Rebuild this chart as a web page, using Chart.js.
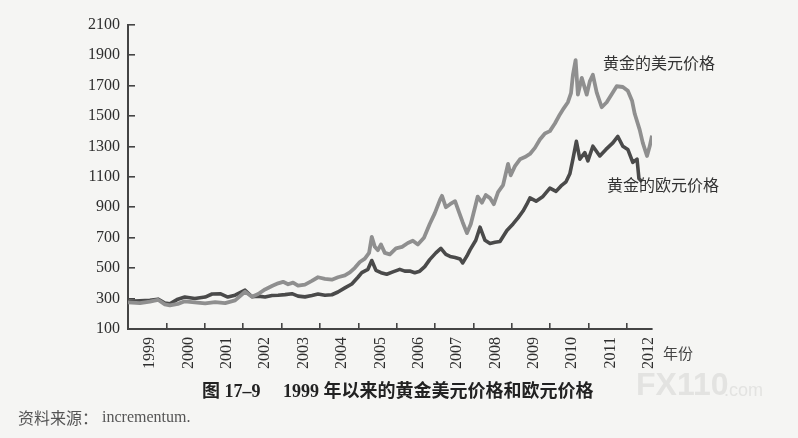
<!DOCTYPE html>
<html>
<head>
<meta charset="utf-8">
<script src="https://cdn.jsdelivr.net/npm/chart.js@4.4.1/dist/chart.umd.min.js"></script>
<style>
  html, body { margin: 0; padding: 0; background: #f5f5f3; }
  #wrap { width: 798px; height: 438px; position: relative; }
</style>
</head>
<body>
<div id="wrap"><canvas id="c" width="798" height="438"></canvas></div>
<script>
// ---- data ----
const usdYears = [1999.00,1999.31,1999.57,1999.78,1999.96,2000.09,2000.30,2000.48,2000.74,2001.01,2001.27,2001.53,2001.79,2002.05,2002.23,2002.39,2002.57,2002.75,2002.91,2003.04,2003.17,2003.30,2003.43,2003.61,2003.79,2003.95,2004.13,2004.31,2004.47,2004.65,2004.78,2004.91,2005.04,2005.17,2005.28,2005.35,2005.43,2005.51,2005.59,2005.69,2005.82,2005.98,2006.14,2006.29,2006.42,2006.55,2006.71,2006.86,2006.99,2007.13,2007.18,2007.28,2007.39,2007.52,2007.62,2007.72,2007.83,2007.93,2008.04,2008.11,2008.22,2008.32,2008.43,2008.53,2008.64,2008.77,2008.90,2008.97,2009.08,2009.21,2009.34,2009.47,2009.60,2009.73,2009.86,2009.99,2010.12,2010.25,2010.35,2010.46,2010.54,2010.59,2010.66,2010.72,2010.82,2010.95,2011.03,2011.11,2011.21,2011.34,2011.47,2011.60,2011.73,2011.89,2012.02,2012.13,2012.20,2012.33,2012.41,2012.52,2012.59,2012.65];
const usdPrices = [275,270,280,292,262,255,265,282,275,268,276,270,288,345,312,330,360,382,400,410,394,405,385,392,416,440,430,424,440,452,472,502,540,562,600,705,640,618,655,600,590,630,640,665,680,655,700,790,860,950,975,900,920,940,870,800,730,790,900,970,930,980,960,920,1000,1045,1185,1110,1170,1215,1230,1250,1290,1345,1385,1400,1450,1510,1550,1590,1650,1770,1866,1640,1750,1640,1727,1770,1653,1557,1590,1642,1695,1690,1665,1600,1514,1408,1323,1237,1300,1370];

const eurYears = [1999.00,1999.31,1999.57,1999.78,1999.96,2000.09,2000.30,2000.48,2000.74,2001.01,2001.19,2001.40,2001.60,2001.79,2002.05,2002.23,2002.39,2002.57,2002.75,2002.91,2003.09,2003.27,2003.43,2003.61,2003.79,2003.95,2004.13,2004.31,2004.47,2004.65,2004.83,2004.99,2005.09,2005.25,2005.35,2005.46,2005.59,2005.74,2005.90,2006.08,2006.21,2006.34,2006.47,2006.60,2006.73,2006.86,2007.02,2007.15,2007.28,2007.39,2007.52,2007.65,2007.72,2007.83,2007.91,2008.06,2008.17,2008.30,2008.43,2008.56,2008.69,2008.87,2009.03,2009.16,2009.29,2009.39,2009.47,2009.63,2009.81,2009.99,2010.15,2010.28,2010.41,2010.51,2010.59,2010.68,2010.77,2010.90,2010.98,2011.11,2011.29,2011.45,2011.63,2011.76,2011.89,2012.02,2012.15,2012.26,2012.31,2012.39];
const eurPrices = [282,285,288,296,270,265,296,310,300,310,330,332,310,322,355,312,316,310,320,322,326,332,316,311,320,330,322,325,343,370,396,440,470,492,550,485,470,460,475,492,480,481,470,480,510,556,600,630,590,577,570,560,534,580,620,683,769,683,662,670,675,747,790,830,875,920,961,940,971,1025,1004,1040,1067,1120,1216,1333,1216,1259,1205,1301,1237,1280,1323,1365,1301,1280,1195,1216,1088,1067];

const yTicks = [100,300,500,700,900,1100,1300,1500,1700,1900,2100];
const yearTicks = [1999,2000,2001,2002,2003,2004,2005,2006,2007,2008,2009,2010,2011,2012];

const seriesNames = ['黄金的美元价格', '黄金的欧元价格'];
const titleLead = '图 17–9';
const titleText = '1999 年以来的黄金美元价格和欧元价格';
const sourceLead = '资料来源：';
const sourceText = 'incrementum.';
const xUnit = '年份';

// ---- chart ----
const toPts = (xs, ys) => xs.map((x, i) => ({ x: x, y: ys[i] }));
const serif = '"Liberation Serif", "DejaVu Serif", serif';
const cjk = '"Noto Sans CJK SC", sans-serif';

const textPlugin = {
  id: 'texts',
  beforeDraw(chart) {
    const ctx = chart.ctx;
    ctx.save();
    ctx.fillStyle = '#f5f5f3';
    ctx.fillRect(0, 0, chart.width, chart.height);
    ctx.restore();
  },
  beforeDatasetsDraw(chart) {
    chart.ctx.save();
    chart.ctx.filter = 'blur(0.6px)';
  },
  afterDatasetsDraw(chart) {
    chart.ctx.restore();
  },
  afterDraw(chart) {
    const ctx = chart.ctx;
    ctx.save();
    ctx.textBaseline = 'middle';
    // watermark
    ctx.fillStyle = '#e3e3e1';
    ctx.font = 'bold 32px "Liberation Sans", sans-serif';
    ctx.fillText('FX110', 636, 386);
    ctx.font = '18px "Liberation Sans", sans-serif';
    ctx.fillText('.com', 724, 391);
    // series labels
    ctx.fillStyle = '#333';
    ctx.font = '16px ' + cjk;
    ctx.fillText(seriesNames[0], 603, 63);
    ctx.fillText(seriesNames[1], 607, 185);
    // x unit
    ctx.font = '15px ' + cjk;
    ctx.fillStyle = '#444';
    ctx.fillText(xUnit, 663, 353);
    // title
    ctx.fillStyle = '#222';
    ctx.font = 'bold 18px ' + serif + ', ' + cjk;
    ctx.fillText(titleLead, 202, 392);
    ctx.fillText(titleText, 283, 392);
    // source
    ctx.fillStyle = '#555';
    ctx.font = '16px ' + cjk;
    ctx.fillText(sourceLead, 18, 418);
    ctx.font = '16px ' + serif;
    ctx.fillText(sourceText, 102, 418);
    ctx.restore();
  }
};

new Chart(document.getElementById('c'), {
  type: 'line',
  data: {
    datasets: [
      {
        label: seriesNames[0],
        data: toPts(usdYears, usdPrices),
        borderColor: '#8f8f8f',
        borderWidth: 3.8,
        pointRadius: 0,
        tension: 0,
        borderJoinStyle: 'round'
      },
      {
        label: seriesNames[1],
        data: toPts(eurYears, eurPrices),
        borderColor: '#4a4a4a',
        borderWidth: 3.6,
        pointRadius: 0,
        tension: 0,
        borderJoinStyle: 'round'
      }
    ]
  },
  options: {
    responsive: false,
    animation: false,
    events: [],
    layout: { padding: { left: 0, top: 15, right: 146, bottom: 0 } },
    plugins: { legend: { display: false }, tooltip: { enabled: false }, title: { display: false } },
    scales: {
      x: {
        type: 'linear',
        min: 1999,
        max: 2012.65,
        afterBuildTicks: s => { s.ticks = yearTicks.map(v => ({ value: v })); },
        afterFit: s => { s.height = 109; },
        grid: { display: true, drawOnChartArea: false, drawTicks: true, tickLength: -6, color: '#444', lineWidth: 1.6 },
        border: { display: true, color: '#444', width: 2 },
        ticks: {
          autoSkip: false,
          minRotation: 90,
          maxRotation: 90,
          padding: 14,
          labelOffset: 22,
          color: '#2e2e2e',
          font: { family: serif, size: 16 },
          callback: v => String(v)
        }
      },
      y: {
        min: 100,
        max: 2100,
        afterBuildTicks: s => { s.ticks = yTicks.map(v => ({ value: v })); },
        afterFit: s => { s.width = 128; },
        grid: { display: true, drawOnChartArea: false, drawTicks: true, tickLength: -7, color: '#444', lineWidth: 1.6 },
        border: { display: true, color: '#444', width: 2 },
        ticks: {
          padding: 15,
          color: '#2e2e2e',
          font: { family: serif, size: 16 },
          callback: v => String(v)
        }
      }
    }
  },
  plugins: [textPlugin]
});
</script>
</body>
</html>
